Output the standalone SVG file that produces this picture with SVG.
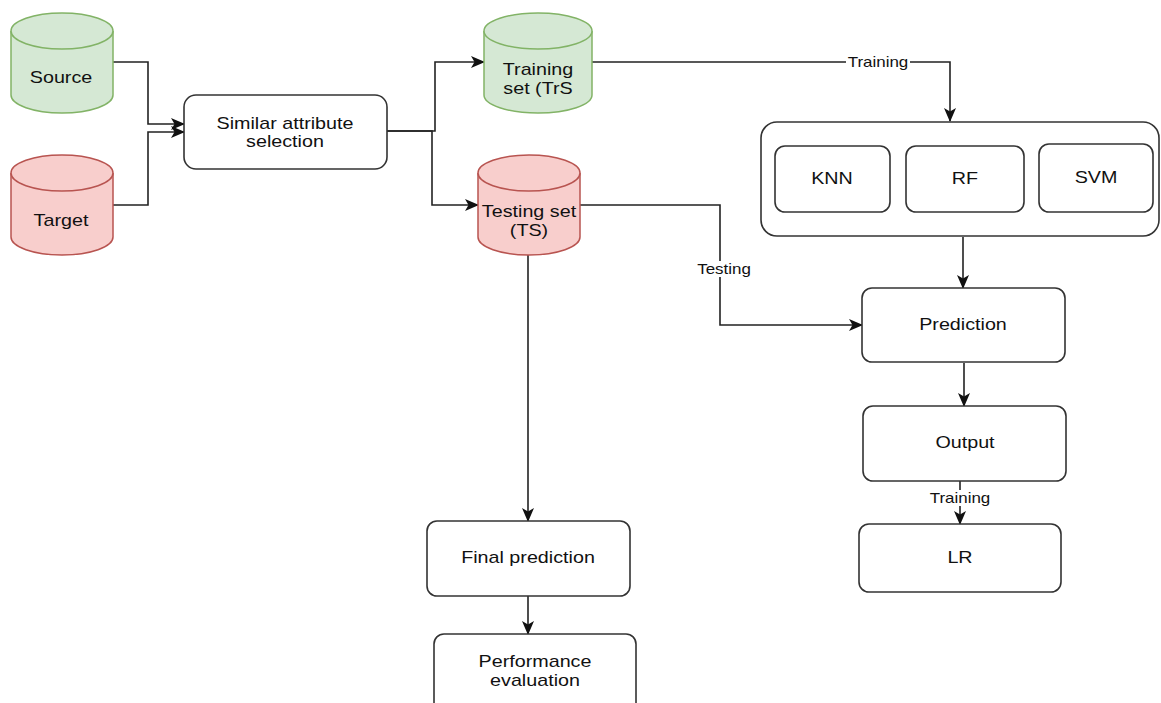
<svg xmlns="http://www.w3.org/2000/svg" width="1161" height="703" viewBox="0 0 1161 703">
<style>
.t{font-family:"Liberation Sans",Arial,sans-serif;font-size:17px;fill:#111;text-anchor:middle}
.l{font-family:"Liberation Sans",Arial,sans-serif;font-size:15px;fill:#111;text-anchor:middle}
.box{fill:#fff;stroke:#333;stroke-width:1.6}
.g{fill:#d5e8d4;stroke:#82b366;stroke-width:1.5}
.r{fill:#f8cecc;stroke:#b85450;stroke-width:1.5}
.c{fill:none;stroke:#222;stroke-width:1.6}
.bg{fill:#fff}
</style>
<defs>
<marker id="a" markerUnits="userSpaceOnUse" markerWidth="14" markerHeight="12" viewBox="0 0 14 12" refX="13" refY="6" orient="auto">
<path d="M0,0 L14,6 L0,12 L3.5,6 Z" fill="#111"/>
</marker>
</defs>
<rect width="1161" height="703" fill="#fff"/>

<g id="connectors">
<path class="c" d="M113,62 H148 V124 H184" marker-end="url(#a)"/>
<path class="c" d="M113,205 H148 V132 H184" marker-end="url(#a)"/>
<path class="c" d="M387,131 H435 V62 H484" marker-end="url(#a)"/>
<path class="c" d="M387,131 H432 V205 H478" marker-end="url(#a)"/>
<path class="c" d="M592,62 H950 V121" marker-end="url(#a)"/>
<path class="c" d="M580,205 H720 V325 H862" marker-end="url(#a)"/>
<path class="c" d="M528,255 V521" marker-end="url(#a)"/>
<path class="c" d="M963,237 V288" marker-end="url(#a)"/>
<path class="c" d="M964,363 V406" marker-end="url(#a)"/>
<path class="c" d="M960,481 V524" marker-end="url(#a)"/>
<path class="c" d="M528,596 V634" marker-end="url(#a)"/>
<rect class="bg" x="846" y="54" width="64" height="16"/>
<text class="l" transform="translate(878,67) scale(1.13,1)">Training</text>
<rect class="bg" x="695" y="261" width="59" height="16"/>
<text class="l" transform="translate(724,274) scale(1.13,1)">Testing</text>
<rect class="bg" x="928" y="490" width="64" height="16"/>
<text class="l" transform="translate(960,503) scale(1.13,1)">Training</text>
</g>

<g id="source">
<path class="g" d="M11,31 A51,18 0 0 1 113,31 L113,95 A51,18 0 0 1 11,95 Z"/>
<path class="g" d="M11,31 A51,18 0 0 0 113,31"/>
<text class="t" transform="translate(61,83) scale(1.16,1)">Source</text>
</g>

<g id="target">
<path class="r" d="M11,173 A51,18 0 0 1 113,173 L113,237 A51,18 0 0 1 11,237 Z"/>
<path class="r" d="M11,173 A51,18 0 0 0 113,173"/>
<text class="t" transform="translate(61,226) scale(1.16,1)">Target</text>
</g>

<g id="similar">
<rect class="box" x="184" y="95" width="203" height="74" rx="12"/>
<text class="t" transform="translate(285,129) scale(1.16,1)">Similar attribute</text>
<text class="t" transform="translate(285,147) scale(1.16,1)">selection</text>
</g>

<g id="training-set">
<path class="g" d="M484,31 A54,18 0 0 1 592,31 L592,95 A54,18 0 0 1 484,95 Z"/>
<path class="g" d="M484,31 A54,18 0 0 0 592,31"/>
<text class="t" transform="translate(538,75) scale(1.16,1)">Training</text>
<text class="t" transform="translate(538,94) scale(1.16,1)">set (TrS</text>
</g>

<g id="testing-set">
<path class="r" d="M478,173 A51,18 0 0 1 580,173 L580,237 A51,18 0 0 1 478,237 Z"/>
<path class="r" d="M478,173 A51,18 0 0 0 580,173"/>
<text class="t" transform="translate(529,217) scale(1.16,1)">Testing set</text>
<text class="t" transform="translate(529,236) scale(1.16,1)">(TS)</text>
</g>

<g id="models">
<rect class="box" x="761" y="122" width="398" height="114" rx="16"/>
</g>
<g id="knn">
<rect class="box" x="775" y="146" width="115" height="66" rx="10"/>
<text class="t" transform="translate(832,184) scale(1.16,1)">KNN</text>
</g>
<g id="rf">
<rect class="box" x="906" y="146" width="118" height="66" rx="10"/>
<text class="t" transform="translate(965,184) scale(1.16,1)">RF</text>
</g>
<g id="svm">
<rect class="box" x="1039" y="144" width="114" height="68" rx="10"/>
<text class="t" transform="translate(1096,183) scale(1.16,1)">SVM</text>
</g>

<g id="prediction">
<rect class="box" x="862" y="288" width="203" height="74" rx="10"/>
<text class="t" transform="translate(963,330) scale(1.16,1)">Prediction</text>
</g>

<g id="output">
<rect class="box" x="863" y="406" width="203" height="75" rx="10"/>
<text class="t" transform="translate(965,448) scale(1.16,1)">Output</text>
</g>

<g id="lr">
<rect class="box" x="859" y="524" width="202" height="68" rx="10"/>
<text class="t" transform="translate(960,563) scale(1.16,1)">LR</text>
</g>

<g id="final-prediction">
<rect class="box" x="427" y="521" width="203" height="75" rx="10"/>
<text class="t" transform="translate(528,563) scale(1.16,1)">Final prediction</text>
</g>

<g id="performance">
<rect class="box" x="434" y="634" width="202" height="80" rx="10"/>
<text class="t" transform="translate(535,667) scale(1.16,1)">Performance</text>
<text class="t" transform="translate(535,686) scale(1.16,1)">evaluation</text>
</g>
</svg>
